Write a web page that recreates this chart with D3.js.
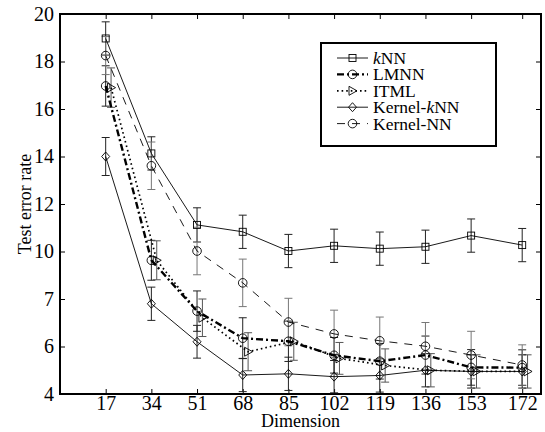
<!DOCTYPE html>
<html>
<head>
<meta charset="utf-8">
<script src="https://cdn.jsdelivr.net/npm/d3@7"></script>
<style>
  body { margin: 0; background: #fff; }
  text { font-family: "Liberation Serif", "Times New Roman", serif; fill: #000; }
</style>
</head>
<body>
<svg width="545" height="432"></svg>
<script>
// data
var dims = [17, 34, 51, 68, 85, 102, 119, 136, 153, 172];

var knn       = [18.97, 14.13, 11.12, 10.83, 10.02, 10.24, 10.12, 10.20, 10.67, 10.27];
var knnErr    = [0.70, 0.70, 0.72, 0.70, 0.70, 0.70, 0.70, 0.70, 0.70, 0.70];
var lmnn      = [16.97, 9.63, 7.49, 6.35, 6.22, 5.63, 5.38, 5.64, 5.12, 5.11];
var lmnnErr   = [0.85, 0.84, 0.85, 0.86, 0.85, 0.75, 0.75, 0.80, 0.75, 0.75];
var itml      = [16.90, 9.63, 7.21, 5.78, 6.22, 5.50, 5.20, 5.00, 4.95, 4.95];
var itmlErr   = [0.83, 0.82, 0.79, 0.80, 0.80, 0.67, 0.70, 0.70, 0.70, 0.70];
var kknn      = [14.00, 7.80, 6.20, 4.80, 4.85, 4.73, 4.78, 5.00, 4.95, 4.95];
var kknnErr   = [0.80, 0.70, 0.69, 0.70, 0.70, 0.68, 0.70, 0.70, 0.70, 0.70];
var knnk      = [18.25, 13.61, 10.02, 8.68, 7.03, 6.53, 6.24, 6.01, 5.64, 5.22];
var knnkErr   = [0.80, 1.00, 1.00, 1.00, 1.00, 1.00, 1.00, 1.00, 1.00, 0.85];

var yTicks = [4, 6, 8, 10, 12, 14, 16, 18, 20];
var yTickLabels = ["4", "6", "7", "10", "12", "14", "16", "18", "20"];

var series = [
  { name: ["", "k", "NN"], y: knn, err: knnErr, shift: 0, marker: "square",
    width: 0.9, dash: null, barColor: "#222" },
  { name: ["LMNN"], y: lmnn, err: lmnnErr, shift: 0, marker: "circle",
    width: 2.4, dash: "7,3,2,3", barColor: "#222" },
  { name: ["ITML"], y: itml, err: itmlErr, shift: 2, marker: "triangle",
    width: 1.7, dash: "1.6,3", barColor: "#555" },
  { name: ["Kernel-", "k", "NN"], y: kknn, err: kknnErr, shift: 0, marker: "diamond",
    width: 0.9, dash: null, barColor: "#222" },
  { name: ["Kernel-NN"], y: knnk, err: knnkErr, shift: 0, marker: "circle",
    width: 0.9, dash: "8,7", barColor: "#777" }
];

var svg = d3.select("svg");
var margin = { left: 60, right: 4, top: 14, bottom: 38 };
var width = +svg.attr("width");
var height = +svg.attr("height");

var x = d3.scaleLinear().domain([0, 179]).range([margin.left, width - margin.right]);
var y = d3.scaleLinear().domain([4, 20]).range([height - margin.bottom, margin.top]);

// axes, ticks pointing inward on all four sides
function tickFmt(d) { return yTickLabels[yTicks.indexOf(d)]; }

svg.append("g")
    .attr("transform", "translate(0," + y(4) + ")")
    .call(d3.axisBottom(x).tickValues(dims).tickSizeInner(-5).tickSizeOuter(0).tickPadding(2))
    .call(function (g) {
        g.select(".domain").remove();
        g.selectAll("text").attr("font-size", 20).attr("dy", "0.72em");
    });
svg.append("g")
    .attr("transform", "translate(0," + y(20) + ")")
    .call(d3.axisTop(x).tickValues(dims).tickSizeInner(-5).tickSizeOuter(0).tickFormat(""))
    .call(function (g) { g.select(".domain").remove(); });
svg.append("g")
    .attr("transform", "translate(" + x(0) + ",0)")
    .call(d3.axisLeft(y).tickValues(yTicks).tickFormat(tickFmt).tickSizeInner(-5).tickSizeOuter(0).tickPadding(6))
    .call(function (g) {
        g.select(".domain").remove();
        g.selectAll("text").attr("font-size", 20);
    });
svg.append("g")
    .attr("transform", "translate(" + x(179) + ",0)")
    .call(d3.axisRight(y).tickValues(yTicks).tickSizeInner(-5).tickSizeOuter(0).tickFormat(""))
    .call(function (g) { g.select(".domain").remove(); });

svg.selectAll(".tick line").attr("stroke", "#000").attr("stroke-width", 1);

// frame
svg.append("rect")
    .attr("x", x(0)).attr("y", y(20))
    .attr("width", x(179) - x(0)).attr("height", y(4) - y(20))
    .attr("fill", "none").attr("stroke", "#000").attr("stroke-width", 2);

// axis titles
svg.append("text")
    .attr("x", (x(0) + x(179)) / 2).attr("y", 427)
    .attr("text-anchor", "middle").attr("font-size", 18)
    .text("Dimension");
svg.append("text")
    .attr("transform", "translate(31," + ((y(4) + y(20)) / 2) + ") rotate(-90)")
    .attr("text-anchor", "middle").attr("font-size", 18)
    .text("Test error rate");

function drawMarker(g, type, cx, cy) {
    var s;
    if (type === "square") {
        s = g.append("rect").attr("x", cx - 3.5).attr("y", cy - 3.5).attr("width", 7).attr("height", 7);
    } else if (type === "circle") {
        s = g.append("circle").attr("cx", cx).attr("cy", cy).attr("r", 4.3);
    } else if (type === "triangle") {
        s = g.append("path").attr("d", "M" + (cx - 3.5) + "," + (cy - 4.5) + "L" + (cx + 4.5) + "," + cy +
            "L" + (cx - 3.5) + "," + (cy + 4.5) + "Z");
    } else {
        s = g.append("path").attr("d", "M" + cx + "," + (cy - 4.5) + "L" + (cx + 4) + "," + cy +
            "L" + cx + "," + (cy + 4.5) + "L" + (cx - 4) + "," + cy + "Z");
    }
    s.attr("fill", "none").attr("stroke", "#000").attr("stroke-width", 0.9);
}

// error bars
series.forEach(function (s) {
    var g = svg.append("g").attr("stroke", s.barColor).attr("stroke-width", 1);
    dims.forEach(function (d, i) {
        var cx = x(d + s.shift);
        var top = y(s.y[i] + s.err[i]);
        var bot = y(s.y[i] - s.err[i]);
        g.append("line").attr("x1", cx).attr("x2", cx).attr("y1", top).attr("y2", bot);
        g.append("line").attr("x1", cx - 4).attr("x2", cx + 4).attr("y1", top).attr("y2", top);
        g.append("line").attr("x1", cx - 4).attr("x2", cx + 4).attr("y1", bot).attr("y2", bot);
    });
});

// lines
series.forEach(function (s) {
    var line = d3.line()
        .x(function (d, i) { return x(dims[i] + s.shift); })
        .y(function (d) { return y(d); });
    svg.append("path")
        .datum(s.y)
        .attr("d", line)
        .attr("fill", "none")
        .attr("stroke", "#000")
        .attr("stroke-width", s.width)
        .attr("stroke-dasharray", s.dash);
});

// markers
series.forEach(function (s) {
    var g = svg.append("g");
    s.y.forEach(function (v, i) {
        drawMarker(g, s.marker, x(dims[i] + s.shift), y(v));
    });
});

// legend
var legend = svg.append("g");
legend.append("rect")
    .attr("x", 321).attr("y", 43).attr("width", 175).attr("height", 103)
    .attr("fill", "#fff").attr("stroke", "#000").attr("stroke-width", 2);
series.forEach(function (s, i) {
    var ly = 58 + i * 16.4;
    legend.append("line")
        .attr("x1", 337).attr("x2", 368).attr("y1", ly).attr("y2", ly)
        .attr("stroke", "#000").attr("stroke-width", s.width)
        .attr("stroke-dasharray", s.dash);
    drawMarker(legend, s.marker, 352.5, ly);
    var t = legend.append("text")
        .attr("x", 373).attr("y", ly + 6).attr("font-size", 17.5);
    s.name.forEach(function (part, j) {
        if (!part) return;
        t.append("tspan")
            .attr("font-style", part === "k" ? "italic" : "normal")
            .text(part);
    });
});
</script>
</body>
</html>
